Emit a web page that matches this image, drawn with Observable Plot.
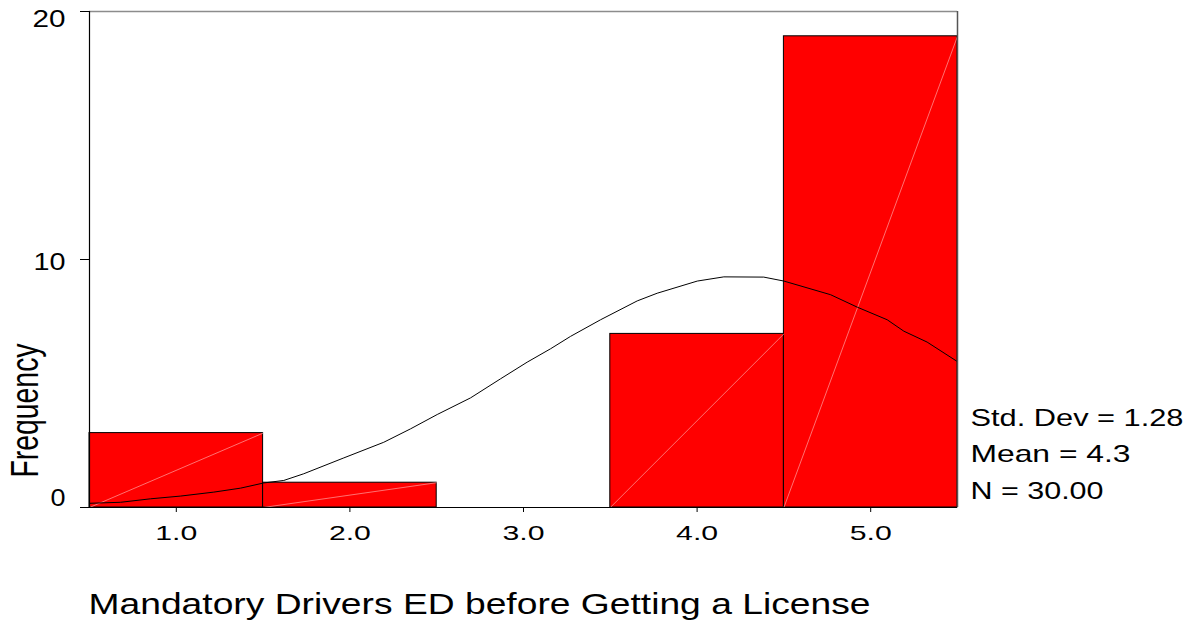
<!DOCTYPE html>
<html><head><meta charset="utf-8">
<script src="https://cdn.jsdelivr.net/npm/d3@7"></script>
<script src="https://cdn.jsdelivr.net/npm/@observablehq/plot@0.6"></script>
<style>body{margin:0;background:#fff}</style>
</head><body><div id="chart"></div>
<script>
// ---- data ----
const binCenters = [1, 2, 3, 4, 5];
const frequencies = [3, 1, 0, 7, 19];
const binWidth = 1;
const xTicks = [1, 2, 3, 4, 5];
const yTicks = [0, 10, 20];
const curveX = [0.502, 0.679, 0.851, 1.024, 1.216, 1.370, 1.504, 1.619, 1.734, 1.965, 2.195, 2.349, 2.503, 2.695, 2.868, 3.021, 3.156, 3.271, 3.444, 3.655, 3.770, 4.001, 4.154, 4.384, 4.500, 4.769, 4.922, 5.095, 5.191, 5.325, 5.498];
const curveY = [0.17, 0.21, 0.35, 0.46, 0.62, 0.78, 0.99, 1.09, 1.36, 2.00, 2.63, 3.17, 3.75, 4.42, 5.19, 5.86, 6.40, 6.90, 7.57, 8.33, 8.64, 9.13, 9.30, 9.29, 9.13, 8.58, 8.08, 7.57, 7.11, 6.67, 5.89];
const statsLines = ["Std. Dev = 1.28", "Mean = 4.3", "N = 30.00"];
const xTitle = "Mandatory Drivers ED before Getting a License";
const yTitle = "Frequency";

// ---- derived tables ----
const bins = binCenters
  .map((c, i) => ({x1: c - binWidth / 2, x2: c + binWidth / 2, n: frequencies[i]}))
  .filter(d => d.n > 0);
const curve = curveX.map((x, i) => ({x, y: curveY[i]}));

// ---- style constants ----
const yLabelDy = [-8.4, 3.6, 8.6];
const statsDy = [-89, -53, -16.4];

const chart = Plot.plot({
  width: 1196,
  height: 620,
  marginLeft: 89,
  marginRight: 239,
  marginTop: 11,
  marginBottom: 113,
  style: {fontFamily: "'Liberation Sans', Arial, sans-serif", background: "#fff", color: "#000", overflow: "visible"},
  x: {domain: [0.5, 5.5]},
  y: {domain: [0, 20]},
  marks: [
    Plot.rectY(bins, {x1: "x1", x2: "x2", y1: 0, y2: "n", fill: "#ff0000", stroke: "#000", strokeWidth: 1}),
    Plot.link(bins, {x1: "x1", y1: 0, x2: "x2", y2: "n", stroke: "#ffa0a0", strokeWidth: 0.7}),
    Plot.line(curve, {x: "x", y: "y", stroke: "#000", strokeWidth: 1}),
    Plot.ruleY([20], {stroke: "#8c8c8c", strokeWidth: 1.5}),
    Plot.ruleX([5.5], {stroke: "#555", strokeWidth: 1.5}),
    Plot.ruleX([0.5], {stroke: "#000", strokeWidth: 1.2}),
    Plot.ruleY([0], {stroke: "#000", strokeWidth: 1.2}),
    Plot.axisX(xTicks, {tickSize: 5, tickPadding: 13, fontSize: 21, tickFormat: d3.format(".1f"), label: null}),
    Plot.axisY(yTicks, {tickSize: 9, tickFormat: () => "", label: null}),
    ...yTicks.map((v, i) => Plot.text([v], {y: d => d, frameAnchor: "left", textAnchor: "end", lineAnchor: "middle", dx: -24, dy: yLabelDy[i], fontSize: 23})),
    ...statsLines.map((s, i) => Plot.text([s], {frameAnchor: "bottom-right", textAnchor: "start", lineAnchor: "middle", dx: 13, dy: statsDy[i], fontSize: 24})),
    Plot.text([xTitle], {frameAnchor: "bottom-left", textAnchor: "start", lineAnchor: "middle", dx: -1, dy: 96.4, fontSize: 30}),
    Plot.text([yTitle], {frameAnchor: "left", textAnchor: "middle", lineAnchor: "middle", rotate: -90, dx: -63.5, dy: 151, fontSize: 39})
  ]
});
document.getElementById("chart").append(chart);

// horizontal stretch of the reference's lettering
const widths = new Map([
  [xTitle, 782], [yTitle, 134],
  [statsLines[0], 213], [statsLines[1], 160], [statsLines[2], 133],
  ["20", 33], ["10", 32], ["0", 15]
]);
chart.querySelectorAll("text").forEach(t => {
  const s = t.textContent;
  let w = widths.get(s);
  if (w == null && /^\d\.0$/.test(s)) w = 42;
  if (w != null) {
    t.setAttribute("textLength", w);
    t.setAttribute("lengthAdjust", "spacingAndGlyphs");
  }
});
</script>
</body></html>
